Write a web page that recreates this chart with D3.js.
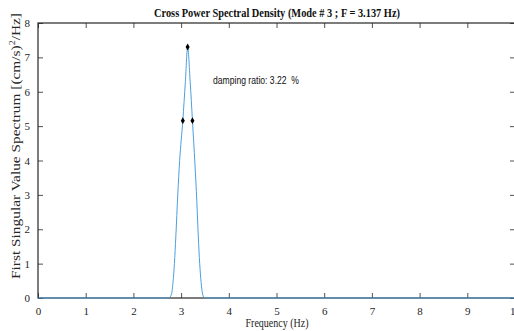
<!DOCTYPE html>
<html>
<head>
<meta charset="utf-8">
<script src="https://cdn.jsdelivr.net/npm/d3@7"></script>
<style>
  body { margin: 0; background: #fff; }
  svg { display: block; }
  .tick text { font-family: "Liberation Serif", "Times New Roman", serif; font-size: 11px; fill: #262626; }
</style>
</head>
<body>
<svg id="chart" width="514" height="331"></svg>
<script>
// Spectrum (Hz, (cm/s)^2/Hz)
const freq = [0, 2.70, 2.76, 2.80, 2.83, 2.86, 2.89, 2.93, 2.97, 3.036, 3.09, 3.137, 3.19, 3.238, 3.29, 3.33, 3.36, 3.39, 3.42, 3.45, 3.48, 3.54, 10]
const psd  = [0, 0, 0.02, 0.12, 0.45, 1.0, 1.8, 3.0, 4.0, 5.16, 6.3, 7.3, 6.3, 5.16, 3.9, 2.8, 1.8, 1.0, 0.45, 0.12, 0.02, 0, 0]

// Peak and half-power points
const markFreq = [3.137, 3.036, 3.238]
const markPsd  = [7.3, 5.16, 5.16]

const xTicks = [0, 1, 2, 3, 4, 5, 6, 7, 8, 9, 10]
const yTicks = [0, 1, 2, 3, 4, 5, 6, 7, 8]

const title = "Cross Power Spectral Density (Mode # 3 ; F = 3.137 Hz)"
const note = "damping ratio: 3.22  %"

const svg = d3.select('#chart')
const pl = 38, pr = 515, pt = 23, pb = 298
const axisColor = '#262626'

const x = d3.scaleLinear().domain([0, 10]).range([pl, pr])
const y = d3.scaleLinear().domain([0, 8]).range([pb, pt])

// Axes (ticks pointing inward, like MATLAB)
const gx = svg.append('g')
    .attr('transform', `translate(0,${pb})`)
    .call(d3.axisBottom(x).tickValues(xTicks).tickSize(-5).tickPadding(9).tickFormat(d3.format('d')))
const gxTop = svg.append('g')
    .attr('transform', `translate(0,${pt})`)
    .call(d3.axisTop(x).tickValues(xTicks).tickSize(-5).tickFormat(''))
const gy = svg.append('g')
    .attr('transform', `translate(${pl},0)`)
    .call(d3.axisLeft(y).tickValues(yTicks).tickSize(-5).tickPadding(8).tickFormat(d3.format('d')))
const gyRight = svg.append('g')
    .attr('transform', `translate(${pr},0)`)
    .call(d3.axisRight(y).tickValues(yTicks).tickSize(-5).tickFormat(''))

for (const g of [gx, gxTop, gy, gyRight]) {
  g.select('.domain').remove()
  g.selectAll('.tick line').attr('stroke', axisColor).attr('stroke-width', 0.8)
}

// Box outline
svg.append('rect')
    .attr('x', pl).attr('y', pt)
    .attr('width', pr - pl).attr('height', pb - pt)
    .attr('fill', 'none')
    .attr('stroke', axisColor)
    .attr('stroke-width', 1.2)

// Spectrum line
const line = d3.line()
    .x((d, i) => x(freq[i]))
    .y(d => y(d))
    .curve(d3.curveMonotoneX)

svg.append('path')
    .datum(psd)
    .attr('d', line)
    .attr('fill', 'none')
    .attr('stroke', '#4d9fdc')
    .attr('stroke-width', 1)

// Markers
svg.selectAll('.mark')
    .data(markPsd)
    .join('path')
    .attr('class', 'mark')
    .attr('d', d3.symbol(d3.symbolDiamond, 14))
    .attr('transform', (d, i) => `translate(${x(markFreq[i])},${y(d)})`)
    .attr('fill', '#000')

// Annotation
svg.append('text')
    .attr('x', 213).attr('y', 84)
    .attr('font-family', '"Liberation Sans", Arial, sans-serif')
    .attr('font-size', 10.5)
    .attr('textLength', 86)
    .attr('lengthAdjust', 'spacingAndGlyphs')
    .style('white-space', 'pre')
    .attr('fill', '#111')
    .text(note)

// Title
svg.append('text')
    .attr('x', 277).attr('y', 17)
    .attr('text-anchor', 'middle')
    .attr('font-family', '"Liberation Serif", "Times New Roman", serif')
    .attr('font-weight', 'bold')
    .attr('font-size', 13)
    .attr('textLength', 246)
    .attr('lengthAdjust', 'spacingAndGlyphs')
    .attr('fill', '#111')
    .text(title)

// X label
svg.append('text')
    .attr('x', 277).attr('y', 327)
    .attr('text-anchor', 'middle')
    .attr('font-family', '"Liberation Serif", "Times New Roman", serif')
    .attr('font-size', 12.5)
    .attr('textLength', 63)
    .attr('lengthAdjust', 'spacingAndGlyphs')
    .attr('fill', '#262626')
    .text('Frequency (Hz)')

// Y label
const yl = svg.append('text')
    .attr('transform', 'translate(20,146) rotate(-90)')
    .attr('text-anchor', 'middle')
    .attr('font-family', '"Liberation Serif", "Times New Roman", serif')
    .attr('font-size', 13)
    .attr('textLength', 266)
    .attr('lengthAdjust', 'spacingAndGlyphs')
    .attr('fill', '#262626')
yl.append('tspan').text('First Singular Value Spectrum [(cm/s)')
yl.append('tspan').attr('dy', -5).attr('font-size', 8.5).text('2')
yl.append('tspan').attr('dy', 5).text('/Hz]')
</script>
</body>
</html>
